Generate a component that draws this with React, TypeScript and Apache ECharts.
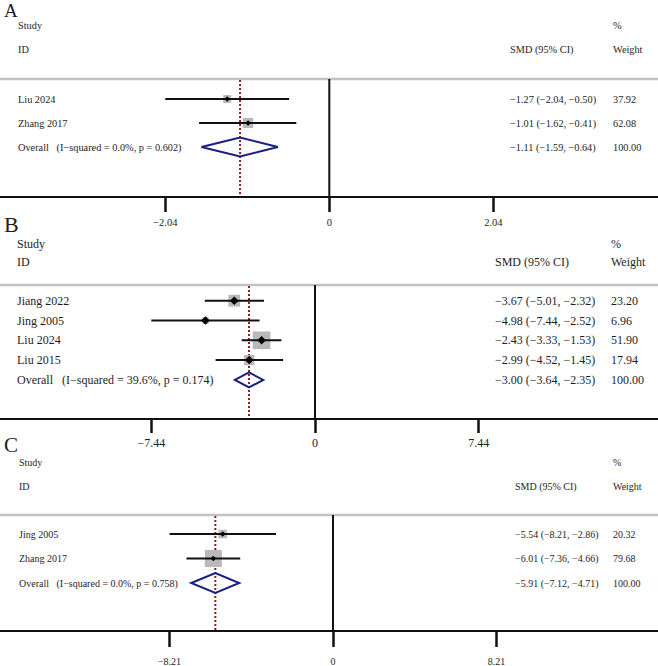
import React, { useEffect, useRef } from "react";
import * as echarts from "echarts";

const FONT = '"Liberation Serif", "Times New Roman", serif';
const WIDTH = 658;
const HEIGHT = 666;

// ---- Panel A ----
const studiesA = ["Liu 2024", "Zhang 2017"];
const smdA = [-1.27, -1.01];
const lowerA = [-2.04, -1.62];
const upperA = [-0.5, -0.41];
const weightA = [37.92, 62.08];
const overallA = [-1.11, -1.59, -0.64];
const hetA = "I\u2212squared = 0.0%, p = 0.602";
const tickA = 2.04;

// ---- Panel B ----
const studiesB = ["Jiang 2022", "Jing 2005", "Liu 2024", "Liu 2015"];
const smdB = [-3.67, -4.98, -2.43, -2.99];
const lowerB = [-5.01, -7.44, -3.33, -4.52];
const upperB = [-2.32, -2.52, -1.53, -1.45];
const weightB = [23.2, 6.96, 51.9, 17.94];
const overallB = [-3.0, -3.64, -2.35];
const hetB = "I\u2212squared = 39.6%, p = 0.174";
const tickB = 7.44;

// ---- Panel C ----
const studiesC = ["Jing 2005", "Zhang 2017"];
const smdC = [-5.54, -6.01];
const lowerC = [-8.21, -7.36];
const upperC = [-2.86, -4.66];
const weightC = [20.32, 79.68];
const overallC = [-5.91, -7.12, -4.71];
const hetC = "I\u2212squared = 0.0%, p = 0.758";
const tickC = 8.21;

type Panel = {
  letter: string;
  studies: string[];
  smd: number[];
  lower: number[];
  upper: number[];
  weight: number[];
  overall: number[];
  het: string;
  tick: number;
};

const panels: Panel[] = [
  { letter: "A", studies: studiesA, smd: smdA, lower: lowerA, upper: upperA, weight: weightA, overall: overallA, het: hetA, tick: tickA },
  { letter: "B", studies: studiesB, smd: smdB, lower: lowerB, upper: upperB, weight: weightB, overall: overallB, het: hetB, tick: tickB },
  { letter: "C", studies: studiesC, smd: smdC, lower: lowerC, upper: upperC, weight: weightC, overall: overallC, het: hetC, tick: tickC },
];

// pixel layout of each panel
const layouts = [
  { letterX: 4, letterY: 10, letterSize: 19, fs: 10.3, labelX: 18, headY: [25, 49], top: 79, bottom: 197, firstRow: 99, rowStep: 24, zeroX: 329.3, ppu: 80.4, ciX: 510, wX: 613, square: 1.3, dot: 5.5, diaH: 19, tickLen: 15, labelMargin: 20, tickFs: 10.5 },
  { letterX: 4, letterY: 224, letterSize: 22, fs: 12, labelX: 17, headY: [244, 262], top: 285, bottom: 419, firstRow: 300.7, rowStep: 19.8, zeroX: 315, ppu: 22.0, ciX: 495, wX: 611, square: 2.45, dot: 8.5, diaH: 15, tickLen: 14, labelMargin: 18, tickFs: 12 },
  { letterX: 4, letterY: 445, letterSize: 21, fs: 10, labelX: 19, headY: [462, 486], top: 515, bottom: 631, firstRow: 534, rowStep: 24.5, zeroX: 333, ppu: 19.91, ciX: 515, wX: 613, square: 1.9, dot: 5.5, diaH: 20, tickLen: 16, labelMargin: 25, tickFs: 10 },
];

const TEXT = "#1e1e1e";

function fmt(v: number): string {
  return (v < 0 ? "\u2212" : "") + Math.abs(v).toFixed(2);
}

function tickLabel(v: number): string {
  if (Math.abs(v) < 1e-9) return "0";
  return fmt(v);
}

function buildOption() {
  const grid: any[] = [];
  const xAxis: any[] = [];
  const yAxis: any[] = [];
  const series: any[] = [];
  const graphic: any[] = [];

  panels.forEach((p, k) => {
    const L = layouts[k];
    const xMin = -L.zeroX / L.ppu;
    const xMax = (WIDTH - L.zeroX) / L.ppu;
    const yMin = (L.top - L.firstRow) / L.rowStep;
    const yMax = (L.bottom - L.firstRow) / L.rowStep;
    const nRows = p.studies.length;

    grid.push({ left: 0, width: WIDTH, top: L.top, height: L.bottom - L.top });
    xAxis.push({
      type: "value",
      gridIndex: k,
      min: xMin,
      max: xMax,
      position: "bottom",
      axisLine: { show: true, onZero: false, lineStyle: { color: "#111", width: 2 } },
      axisTick: {
        show: true,
        customValues: [-p.tick, 0, p.tick],
        length: L.tickLen,
        lineStyle: { color: "#111", width: 2.5 },
      },
      axisLabel: {
        show: true,
        customValues: [-p.tick, 0, p.tick],
        formatter: (v: number) => tickLabel(v),
        margin: L.labelMargin,
        fontFamily: FONT,
        fontSize: L.tickFs,
        color: TEXT,
      },
      splitLine: { show: false },
    });
    yAxis.push({
      type: "value",
      gridIndex: k,
      inverse: true,
      min: yMin,
      max: yMax,
      show: false,
      splitLine: { show: false },
    });

    // panel letter and column headers
    const textStyle = (text: string, size: number) => ({
      text,
      fontFamily: FONT,
      fontSize: size,
      fill: TEXT,
      verticalAlign: "middle",
      align: "left",
    });
    graphic.push(
      { type: "text", x: L.letterX, y: L.letterY, style: textStyle(p.letter, L.letterSize) },
      { type: "text", x: L.labelX, y: L.headY[0], style: textStyle("Study", L.fs) },
      { type: "text", x: L.labelX, y: L.headY[1], style: textStyle("ID", L.fs) },
      { type: "text", x: L.ciX, y: L.headY[1], style: textStyle("SMD (95% CI)", L.fs) },
      { type: "text", x: L.wX, y: L.headY[0], style: textStyle("%", L.fs) },
      { type: "text", x: L.wX, y: L.headY[1], style: textStyle("Weight", L.fs) }
    );

    // gray header rule and the line of no effect
    series.push({
      type: "custom",
      xAxisIndex: k,
      yAxisIndex: k,
      silent: true,
      data: [[0, yMin, yMax]],
      renderItem: (params: any, api: any) => {
        const cs = params.coordSys;
        const t = api.coord([0, api.value(1)]);
        const b = api.coord([0, api.value(2)]);
        return {
          type: "group",
          children: [
            { type: "line", shape: { x1: cs.x, y1: cs.y, x2: cs.x + cs.width, y2: cs.y }, style: { stroke: "#c2c2c2", lineWidth: 2.5 } },
            { type: "line", shape: { x1: t[0], y1: t[1], x2: b[0], y2: b[1] }, style: { stroke: "#111", lineWidth: 2 } },
          ],
        };
      },
    });

    // pooled estimate reference line
    series.push({
      type: "custom",
      xAxisIndex: k,
      yAxisIndex: k,
      silent: true,
      data: [[p.overall[0], yMin, yMax]],
      renderItem: (params: any, api: any) => {
        const t = api.coord([api.value(0), api.value(1)]);
        const b = api.coord([api.value(0), api.value(2)]);
        return {
          type: "line",
          shape: { x1: t[0], y1: t[1] + 1, x2: b[0], y2: b[1] - 1 },
          style: { stroke: "#8e1f1f", lineWidth: 2, lineDash: [2, 2] },
        };
      },
    });

    // individual studies: weight box, CI line, point estimate
    series.push({
      type: "custom",
      xAxisIndex: k,
      yAxisIndex: k,
      silent: true,
      data: p.studies.map((_, i) => [p.smd[i], p.lower[i], p.upper[i], p.weight[i], i]),
      renderItem: (params: any, api: any) => {
        const row = api.value(4);
        const c = api.coord([api.value(0), row]);
        const lo = api.coord([api.value(1), row]);
        const hi = api.coord([api.value(2), row]);
        const s = L.square * Math.sqrt(api.value(3));
        const d = L.dot / 2;
        return {
          type: "group",
          children: [
            { type: "rect", shape: { x: c[0] - s / 2, y: c[1] - s / 2, width: s, height: s }, style: { fill: "#b9b9b9" } },
            { type: "line", shape: { x1: lo[0], y1: lo[1], x2: hi[0], y2: hi[1] }, style: { stroke: "#111", lineWidth: 2 } },
            {
              type: "polygon",
              shape: { points: [[c[0], c[1] - d], [c[0] + d, c[1]], [c[0], c[1] + d], [c[0] - d, c[1]]] },
              style: { fill: "#000" },
            },
          ],
        };
      },
    });

    // pooled estimate diamond
    series.push({
      type: "custom",
      xAxisIndex: k,
      yAxisIndex: k,
      silent: true,
      data: [[p.overall[0], p.overall[1], p.overall[2], nRows]],
      renderItem: (params: any, api: any) => {
        const row = api.value(3);
        const c = api.coord([api.value(0), row]);
        const lo = api.coord([api.value(1), row]);
        const hi = api.coord([api.value(2), row]);
        const h = L.diaH / 2;
        return {
          type: "polygon",
          shape: { points: [[lo[0], c[1]], [c[0], c[1] - h], [hi[0], c[1]], [c[0], c[1] + h]] },
          style: { fill: "none", stroke: "#1b1f80", lineWidth: 2 },
        };
      },
    });

    // study labels and estimate columns
    const labels = [...p.studies, "Overall\u00a0\u00a0\u00a0(" + p.het + ")"];
    const ciTexts = [
      ...p.studies.map((_, i) => `${fmt(p.smd[i])} (${fmt(p.lower[i])}, ${fmt(p.upper[i])})`),
      `${fmt(p.overall[0])} (${fmt(p.overall[1])}, ${fmt(p.overall[2])})`,
    ];
    const wTexts = [...p.weight.map((w) => w.toFixed(2)), "100.00"];
    series.push({
      type: "custom",
      xAxisIndex: k,
      yAxisIndex: k,
      silent: true,
      data: labels.map((_, i) => [0, i]),
      renderItem: (params: any, api: any) => {
        const i = params.dataIndex;
        const y = api.coord([0, api.value(1)])[1];
        const st = (text: string) => ({
          text,
          fontFamily: FONT,
          fontSize: L.fs,
          fill: TEXT,
          align: "left",
          verticalAlign: "middle",
        });
        return {
          type: "group",
          children: [
            { type: "text", x: L.labelX, y, style: st(labels[i]) },
            { type: "text", x: L.ciX, y, style: st(ciTexts[i]) },
            { type: "text", x: L.wX, y, style: st(wTexts[i]) },
          ],
        };
      },
    });
  });

  return {
    animation: false,
    backgroundColor: "#ffffff",
    grid,
    xAxis,
    yAxis,
    series,
    graphic,
  };
}

export default function App() {
  const ref = useRef<HTMLDivElement>(null);
  useEffect(() => {
    if (!ref.current) return;
    const chart = echarts.init(ref.current, null, { renderer: "svg" });
    chart.setOption(buildOption() as any);
    return () => chart.dispose();
  }, []);
  return (
    <div
      ref={ref}
      style={{ position: "absolute", left: 0, top: 0, width: WIDTH, height: HEIGHT, background: "#fff" }}
    />
  );
}
